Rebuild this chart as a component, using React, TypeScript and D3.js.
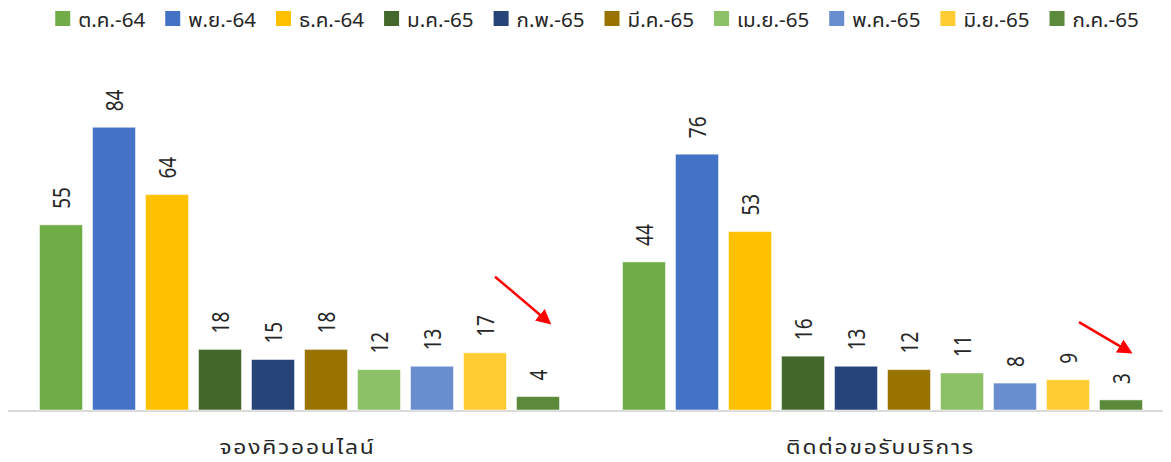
import React, { useRef, useEffect } from "react";
import * as d3 from "d3";

const categories = ["จองคิวออนไลน์", "ติดต่อขอรับบริการ"];
const months = ["ต.ค.-64", "พ.ย.-64", "ธ.ค.-64", "ม.ค.-65", "ก.พ.-65", "มี.ค.-65", "เม.ย.-65", "พ.ค.-65", "มิ.ย.-65", "ก.ค.-65"];
const colors = ["#70AD47", "#4472C4", "#FFC000", "#43682B", "#264478", "#997300", "#8CC168", "#698ED0", "#FFCD33", "#5A8A3A"];
const onlineQueue = [55, 84, 64, 18, 15, 18, 12, 13, 17, 4];
const serviceContact = [44, 76, 53, 16, 13, 12, 11, 8, 9, 3];
const seriesByCategory = [onlineQueue, serviceContact];
// arrows pointing at the last month: group, x offset in group, from value, to value
const arrowNotes = [
    { group: 0, from: [487, 39.6], to: [541, 26] },
    { group: 1, from: [488, 26.1], to: [539, 17.2] },
];

const FONT = "'Noto Sans Thai', 'Leelawadee UI', Tahoma, 'Noto Sans', 'DejaVu Sans', sans-serif";
const STRETCH = 1.2;
const LEGEND_STRETCH = 1.03;

const App = () => {
    const canvas = useRef<SVGSVGElement>(null);

    const width = 1171;
    const height = 462;
    const baseY = 410;

    useEffect(() => {
        const svg = d3.select(canvas.current);
        svg.selectAll("*").remove();

        const x0 = d3.scaleBand<string>().domain(categories).range([8, 1174]);
        const x1 = d3.scaleBand<string>().domain(months).range([31.5, x0.bandwidth() - 31.5]).paddingInner(10 / 53);
        const y = d3.scaleLinear().domain([0, 90]).range([baseY, baseY - 90 * 3.366]);

        // axis line
        svg.append("line")
            .attr("x1", 8).attr("x2", width)
            .attr("y1", baseY + 1).attr("y2", baseY + 1)
            .attr("stroke", "#D9D9D9").attr("stroke-width", 2);

        categories.forEach((cat, gi) => {
            const g = svg.append("g").attr("transform", "translate(" + x0(cat) + ",0)");
            const vals = seriesByCategory[gi];
            g.selectAll("rect")
                .data(vals)
                .enter().append("rect")
                .attr("x", (d, i) => x1(months[i])!)
                .attr("y", (d) => y(d))
                .attr("width", x1.bandwidth())
                .attr("height", (d) => baseY - y(d))
                .attr("fill", (d, i) => colors[i])
                .attr("stroke", "#ffffff")
                .attr("stroke-opacity", 0.5)
                .attr("stroke-width", 1);

            g.selectAll("g.lbl")
                .data(vals)
                .enter().append("g")
                .attr("class", "lbl")
                .attr("transform", (d, i) => "translate(" + (x1(months[i])! + x1.bandwidth() / 2 + 2) + "," + (y(d) - 16) + ") scale(" + STRETCH + ",1) rotate(-90)")
                .append("text")
                .attr("dominant-baseline", "central")
                .attr("font-family", FONT)
                .attr("font-size", 19)
                .attr("fill", "#262626")
                .text((d) => String(d));

            svg.append("g")
                .attr("transform", "translate(" + (x0(cat)! + x0.bandwidth() / 2 - 2) + ",454) scale(" + STRETCH + ",1)")
                .append("text")
                .attr("text-anchor", "middle")
                .attr("font-family", FONT)
                .attr("font-size", 19)
                .attr("letter-spacing", 1.5)
                .attr("fill", "#262626")
                .text(cat);
        });

        // red arrows
        const defs = svg.append("defs");
        defs.append("marker")
            .attr("id", "arrowHead")
            .attr("viewBox", "0 0 10 10")
            .attr("refX", 8).attr("refY", 5)
            .attr("markerWidth", 6).attr("markerHeight", 6)
            .attr("markerUnits", "strokeWidth")
            .attr("orient", "auto")
            .append("path").attr("d", "M0,0 L10,5 L0,10 z").attr("fill", "#FF0000");

        arrowNotes.forEach((a) => {
            const gx = x0(categories[a.group])!;
            svg.append("line")
                .attr("x1", gx + a.from[0]).attr("y1", y(a.from[1]))
                .attr("x2", gx + a.to[0]).attr("y2", y(a.to[1]))
                .attr("stroke", "#FF0000").attr("stroke-width", 2.5)
                .attr("marker-end", "url(#arrowHead)");
        });

        // legend
        const legend = svg.append("g");
        const items = legend.selectAll("g.item")
            .data(months)
            .enter().append("g")
            .attr("class", "item");
        items.append("rect")
            .attr("width", 15).attr("height", 15)
            .attr("y", 11)
            .attr("fill", (d, i) => colors[i]);
        const texts = items.append("g")
            .attr("transform", "translate(23,27) scale(" + LEGEND_STRETCH + ",1)")
            .append("text")
            .attr("font-family", FONT)
            .attr("font-size", 20)
            .attr("fill", "#262626")
            .text((d) => d);
        const widths: number[] = [];
        texts.each(function () {
            widths.push((this as SVGTextElement).getComputedTextLength() * LEGEND_STRETCH);
        });
        const itemW = widths.map((w) => 15 + 8 + w + 20);
        const total = d3.sum(itemW) - 20;
        let cx = 597 - total / 2;
        items.attr("transform", (d, i) => {
            const t = "translate(" + cx + ",0)";
            cx += itemW[i];
            return t;
        });
    }, []);

    return (
        <svg ref={canvas} width={width} height={height} style={{ display: "block", margin: -8, background: "#fff" }}></svg>
    );
};

export default App;
